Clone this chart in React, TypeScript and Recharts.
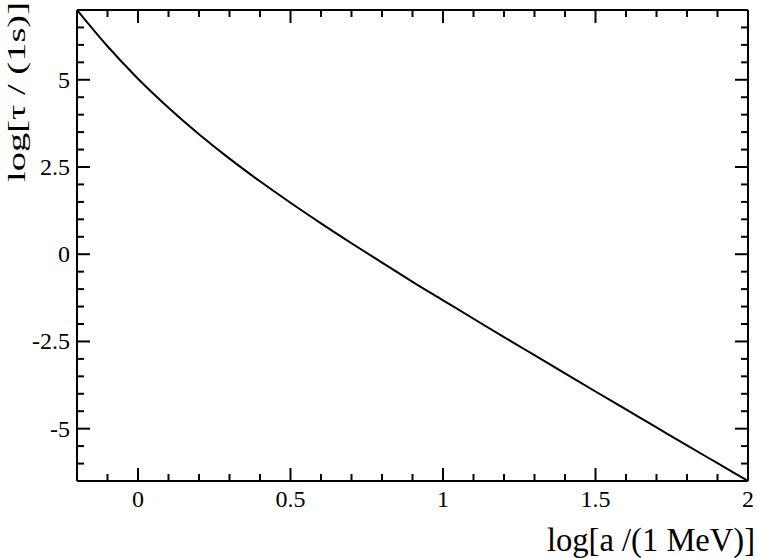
import React from 'react';
import { LineChart, Line, XAxis, YAxis } from 'recharts';

// log10 of the slice energy in MeV
const logA = [
  -0.2, -0.1, 0, 0.1, 0.2, 0.3, 0.4, 0.5, 0.6, 0.7, 0.8, 0.9,
  1.0, 1.1, 1.2, 1.3, 1.4, 1.5, 1.6, 1.7, 1.8, 1.9, 2.0,
];
// log10 of the lifetime in seconds
const logTau = [
  7.0, 5.96, 5.03, 4.2, 3.44, 2.74, 2.09, 1.475, 0.885, 0.315, -0.24, -0.79,
  -1.32, -1.85, -2.375, -2.895, -3.415, -3.935, -4.45, -4.965, -5.48, -5.99, -6.5,
];

const xTicks = [
  -0.2, -0.1, 0, 0.1, 0.2, 0.3, 0.4, 0.5, 0.6, 0.7, 0.8, 0.9, 1.0, 1.1, 1.2,
  1.3, 1.4, 1.5, 1.6, 1.7, 1.8, 1.9, 2.0,
];
const xLabels = ['0', '0.5', '1', '1.5', '2'];
const yTicks = [
  -6.5, -6, -5.5, -5, -4.5, -4, -3.5, -3, -2.5, -2, -1.5, -1, -0.5, 0, 0.5, 1,
  1.5, 2, 2.5, 3, 3.5, 4, 4.5, 5, 5.5, 6, 6.5, 7,
];
const yLabels = ['-5', '-2.5', '0', '2.5', '5'];

const data = logA.map((x, i) => ({ x, y: logTau[i] }));

const FONT = '"Liberation Serif", "Times New Roman", serif';
const MAJOR = 13;
const MINOR = 7;

const fmt = (v: number) => String(Math.round(v * 100) / 100);

const isMajorX = (v: number) => xLabels.includes(fmt(v));
const isMajorY = (v: number) => yLabels.includes(fmt(v));

const BottomTick = (props: any) => {
  const { x, y, payload } = props;
  const major = isMajorX(payload.value);
  return (
    <g>
      <line x1={x} x2={x} y1={y} y2={y - (major ? MAJOR : MINOR)} stroke="#000" strokeWidth={2} />
      {major && (
        <text x={x} y={y + 26} textAnchor="middle" fontFamily={FONT} fontSize={24} fill="#000">
          {fmt(payload.value)}
        </text>
      )}
    </g>
  );
};

const TopTick = (props: any) => {
  const { x, y, payload } = props;
  const major = isMajorX(payload.value);
  return <line x1={x} x2={x} y1={y} y2={y + (major ? MAJOR : MINOR)} stroke="#000" strokeWidth={2} />;
};

const LeftTick = (props: any) => {
  const { x, y, payload } = props;
  const major = isMajorY(payload.value);
  return (
    <g>
      <line x1={x} x2={x + (major ? MAJOR : MINOR)} y1={y} y2={y} stroke="#000" strokeWidth={2} />
      {major && (
        <text x={x - 7} y={y + 8} textAnchor="end" fontFamily={FONT} fontSize={24} fill="#000">
          {fmt(payload.value)}
        </text>
      )}
    </g>
  );
};

const RightTick = (props: any) => {
  const { x, y, payload } = props;
  const major = isMajorY(payload.value);
  return <line x1={x} x2={x - (major ? MAJOR : MINOR)} y1={y} y2={y} stroke="#000" strokeWidth={2} />;
};

const axisLine = { stroke: '#000', strokeWidth: 2 };

export default function App() {
  return (
    <div style={{ position: 'absolute', left: 0, top: 0, width: 758, height: 558, background: '#fff' }}>
      <LineChart width={758} height={558} data={data} margin={{ top: 0, right: 0, bottom: 0, left: 0 }}>
        <XAxis
          xAxisId="b"
          dataKey="x"
          type="number"
          domain={[-0.2, 2]}
          allowDataOverflow
          ticks={xTicks}
          interval={0}
          height={77}
          axisLine={axisLine}
          tickLine={false}
          tickSize={0}
          tickMargin={0}
          tick={<BottomTick />}
        />
        <XAxis
          xAxisId="t"
          orientation="top"
          dataKey="x"
          type="number"
          domain={[-0.2, 2]}
          allowDataOverflow
          ticks={xTicks}
          interval={0}
          height={10}
          axisLine={axisLine}
          tickLine={false}
          tickSize={0}
          tickMargin={0}
          tick={<TopTick />}
        />
        <YAxis
          yAxisId="l"
          type="number"
          domain={[-6.5, 7]}
          allowDataOverflow
          ticks={yTicks}
          interval={0}
          width={77}
          axisLine={axisLine}
          tickLine={false}
          tickSize={0}
          tickMargin={0}
          tick={<LeftTick />}
        />
        <YAxis
          yAxisId="r"
          orientation="right"
          type="number"
          domain={[-6.5, 7]}
          allowDataOverflow
          ticks={yTicks}
          interval={0}
          width={10}
          axisLine={axisLine}
          tickLine={false}
          tickSize={0}
          tickMargin={0}
          tick={<RightTick />}
        />
        <Line
          xAxisId="b"
          yAxisId="l"
          dataKey="y"
          type="monotone"
          stroke="#000"
          strokeWidth={2}
          dot={false}
          activeDot={false}
          isAnimationActive={false}
        />
        <text
          x={547}
          y={551}
          fontFamily={FONT}
          fontSize={33}
          fill="#000"
          textLength={208}
          lengthAdjust="spacingAndGlyphs"
        >
          log[a /(1 MeV)]
        </text>
        <text
          transform="translate(25,182) rotate(-90)"
          x={0}
          y={0}
          fontFamily={FONT}
          fontSize={26}
          fill="#000"
          textLength={180}
          lengthAdjust="spacingAndGlyphs"
        >
          log[τ / (1s)]
        </text>
      </LineChart>
    </div>
  );
}
